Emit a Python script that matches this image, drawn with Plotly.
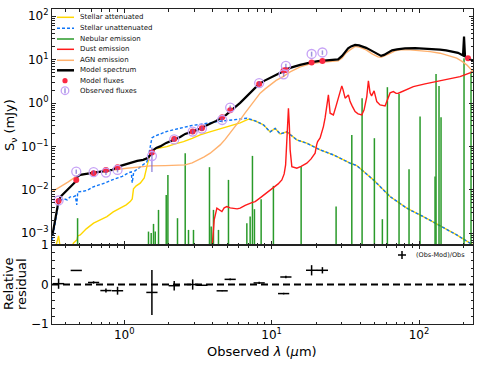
import plotly.graph_objects as go

# ---------------- data (wavelength in micron, flux in mJy) ----------------
model_lam = [0.325, 0.335, 0.346, 0.3586, 0.374, 0.398, 0.430, 0.458, 0.4727, 0.480, 0.503, 0.5526, 0.6165, 0.6877,
             0.767, 0.829, 0.8964, 0.9845, 1.098, 1.225, 1.345, 1.454, 1.501, 1.548, 1.648, 1.754, 1.927, 2.149,
             2.397, 2.592, 2.891, 3.126, 3.433, 3.830, 4.205, 4.617, 4.915, 5.232, 5.656, 6.115, 6.613, 7.149,
             7.610, 8.100, 8.895, 9.768, 10.73, 11.97, 13.35, 15.61, 17.13, 18.82, 20.67, 22.35, 24.93, 28.24,
             30.06, 31.51, 33.02, 34.59, 36.82, 39.19, 41.08, 43.73, 46.54, 49.55, 52.72, 55.26, 57.90, 61.63,
             65.60, 70.94, 80.35, 93.96, 109.8, 128.4, 138.8, 152.5, 167.3, 183.8, 198.7, 201.9, 205.1, 214.9, 232.3]
model_flux = [0.00087, 0.00164, 0.00311, 0.00558, 0.00728, 0.0090, 0.0111, 0.0145, 0.0161, 0.0199, 0.0222, 0.0234,
              0.0247, 0.0260, 0.0274, 0.0289, 0.0339, 0.0377, 0.0419, 0.0466, 0.0491, 0.0546, 0.0640, 0.0792,
              0.0929, 0.1005, 0.121, 0.142, 0.166, 0.195, 0.220, 0.241, 0.283, 0.332, 0.389, 0.468, 0.535, 0.644,
              0.796, 1.011, 1.318, 1.718, 2.125, 2.626, 3.247, 3.807, 4.465, 5.376, 6.47, 7.59, 8.22, 8.76, 9.23,
              9.53, 9.64, 10.16, 12.24, 15.13, 18.21, 20.26, 21.93, 21.36, 20.26, 18.71, 16.82, 14.73, 12.90,
              12.24, 12.90, 14.73, 16.38, 17.28, 18.21, 18.41, 18.03, 17.28, 17.00, 16.38, 15.53, 14.35, 12.56,
              34.06, 11.91, 11.00, 9.38]

agn_lam = [0.325, 0.368, 0.4173, 0.4779, 0.588, 0.6877, 0.869, 1.043, 1.284, 1.501, 1.897, 2.287, 2.592, 2.891,
           3.126, 3.487, 3.830, 4.140, 4.476, 4.838, 5.232, 5.656, 6.115, 6.613, 7.149, 7.729, 8.356, 9.036,
           9.768, 10.73, 11.97, 13.35, 15.61, 18.24, 21.32, 24.93, 28.24, 30.06, 31.99, 34.06, 36.82, 39.81,
           43.73, 48.02, 52.72, 55.26, 58.82, 63.60, 68.77, 74.34, 86.90, 101.6, 118.8, 138.8, 157.2, 180.1,
           195.6, 210.6, 232.3]
agn_flux = [0.00914, 0.01173, 0.01528, 0.02103, 0.0247, 0.0264, 0.0297, 0.0316, 0.0339, 0.0357, 0.0363, 0.0371,
            0.0377, 0.0419, 0.0473, 0.0576, 0.0701, 0.0881, 0.1089, 0.1458, 0.2025, 0.283, 0.410, 0.594, 0.831,
            1.185, 1.691, 2.125, 2.626, 3.334, 4.079, 5.235, 6.826, 8.003, 8.666, 9.042, 9.385, 11.00, 14.35,
            16.82, 20.26, 19.20, 16.82, 13.60, 11.60, 11.30, 12.24, 13.97, 15.95, 16.82, 16.82, 16.21, 15.37,
            14.12, 12.56, 10.83, 9.14, 7.59, 5.32]

dust_lam = [3.933, 3.981, 4.076, 4.252, 4.407, 4.597, 4.764, 4.969, 5.232, 5.483, 5.836, 6.115, 6.613, 7.342,
            7.729, 8.356, 9.036, 9.768, 10.28, 11.07, 11.73, 12.16, 12.44, 12.64, 12.84, 13.00, 13.18, 13.35,
            13.71, 14.82, 15.85, 17.32, 18.52, 19.72, 20.19, 20.51, 21.32, 21.89, 22.45, 23.05, 23.60, 24.27,
            24.93, 26.24, 27.37, 28.38, 29.14, 29.92, 30.53, 31.51, 33.17, 34.06, 35.14, 36.82, 38.58, 40.88,
            42.38, 44.21, 45.33, 46.54, 47.64, 49.55, 51.67, 54.40, 58.82, 61.93, 63.60, 66.96, 69.84, 72.40,
            80.35, 91.50, 109.8, 131.8, 162.3, 189.7, 233.4]
dust_flux = [0.000419, 0.000918, 0.002036, 0.003787, 0.003461, 0.003162, 0.003849, 0.004122, 0.003849, 0.003787,
             0.003651, 0.003787, 0.004394, 0.005097, 0.005374, 0.006541, 0.008087, 0.009739, 0.01094, 0.01374,
             0.01700, 0.02337, 0.0377, 0.1089, 0.4102, 0.7629, 0.3146, 0.0835, 0.0344, 0.03162, 0.03479,
             0.04123, 0.05180, 0.07008, 0.1089, 0.1297, 0.1578, 0.2025, 0.2874, 0.4560, 0.9089, 1.545, 0.5852,
             0.5347, 0.8619, 1.412, 2.014, 2.490, 2.014, 1.297, 1.545, 1.083, 0.8619, 0.6370, 0.5638, 0.5347,
             0.6972, 1.412, 3.247, 1.718, 1.465, 1.910, 1.083, 0.9089, 0.8619, 1.412, 1.718, 1.841, 1.673,
             1.691, 2.014, 2.400, 2.770, 3.129, 3.611, 4.079, 5.318]

stellar_unatt_lam = [0.325, 0.335, 0.346, 0.3586, 0.374, 0.3918, 0.4107, 0.430, 0.4510, 0.4653, 0.4764, 0.4839,
                     0.5190, 0.5612, 0.6165, 0.6877, 0.7435, 0.829, 0.8964, 0.9692, 1.0644, 1.1155, 1.1330,
                     1.160, 1.284, 1.425, 1.466, 1.501, 1.541, 1.623, 1.754, 1.948, 2.218, 2.512, 2.891, 3.275,
                     3.830, 4.476, 5.483, 6.115, 6.789, 7.376, 7.940, 8.800, 9.768, 10.56, 11.42, 12.68, 14.82,
                     17.32, 21.32, 26.24, 31.51, 34.06, 37.81, 41.92, 49.00, 63.60, 82.50, 106.9, 138.8, 180.1,
                     221.7, 232.3]
stellar_unatt_flux = [0.000705, 0.001331, 0.002655, 0.005017, 0.005885, 0.006204, 0.005885, 0.006898, 0.006898,
                      0.007272, 0.004511, 0.008994, 0.009236, 0.009739, 0.01172, 0.01304, 0.01450, 0.01700,
                      0.01890, 0.02047, 0.02464, 0.02599, 0.01450, 0.02599, 0.03388, 0.04417, 0.06404, 0.09790,
                      0.1578, 0.1754, 0.1951, 0.2228, 0.2477, 0.2755, 0.3063, 0.3230, 0.3554, 0.3828, 0.4102,
                      0.4324, 0.4488, 0.4102, 0.3747, 0.3146, 0.2170, 0.2612, 0.1951, 0.2170, 0.1419, 0.1191,
                      0.0835, 0.06404, 0.04657, 0.04123, 0.03630, 0.02640, 0.01700, 0.007009, 0.003787,
                      0.002425, 0.001481, 0.000918, 0.000591, 0.000540]

# attenuated stellar: own short-wavelength part, identical to unattenuated beyond ~8.8 micron
stellar_att_head_lam = [0.325, 0.3514, 0.3586, 0.368, 0.430, 0.4531, 0.4779, 0.4839, 0.503, 0.5526, 0.6195,
                        0.6877, 0.7633, 0.8423, 0.9395, 1.0317, 1.098, 1.133, 1.156, 1.206, 1.284, 1.367, 1.425,
                        1.466, 1.501, 1.623, 1.948, 2.218, 2.524, 2.891, 3.275, 3.711, 4.252, 4.838, 5.508,
                        6.115, 6.961, 7.729]
stellar_att_head_flux = [0.000244, 0.000705, 0.000871, 0.000461, 0.000414, 0.000601, 0.000705, 0.000871,
                         0.000918, 0.001263, 0.001709, 0.002036, 0.002425, 0.003112, 0.003787, 0.004511,
                         0.005374, 0.006204, 0.01054, 0.01237, 0.01427, 0.01890, 0.03442, 0.05760, 0.07120,
                         0.08806, 0.09947, 0.1148, 0.1297, 0.1537, 0.1850, 0.2113, 0.2413, 0.2755, 0.3146,
                         0.3498, 0.4256, 0.3889]
stellar_att_lam = stellar_att_head_lam + stellar_unatt_lam[43:]
stellar_att_flux = stellar_att_head_flux + stellar_unatt_flux[43:]

nebular_lam = [0.4825, 1.461, 1.524, 1.580, 1.623, 1.708, 1.927, 1.978, 2.298, 2.592, 2.729, 2.950, 3.787,
               3.889, 4.031, 4.358, 5.095, 6.789, 7.149, 7.410, 7.645, 8.487, 10.28, 15.85, 27.37, 34.98,
               41.08, 49.77, 56.39, 60.98, 73.16, 85.52, 101.6, 128.4, 130.4, 136.6, 141.0, 201.9, 225.2]
nebular_flux = [0.002228, 0.001094, 0.001021, 0.001647, 0.001094, 0.003461, 0.007667, 0.02216, 0.002228,
                0.07008, 0.001197, 0.001197, 0.03334, 0.001427, 0.003461, 0.001197, 0.01700, 0.001709,
                0.002425, 0.06073, 0.003592, 0.006105, 0.01237, 0.03442, 0.004122, 0.1850, 1.297, 0.1553,
                0.002113, 2.324, 1.629, 0.03000, 0.4886, 0.02025, 4.709, 2.490, 0.4733, 10.83, 5.318]
nebular_floor = 1e-4

filters_lam = [0.3586, 0.4727, 0.6195, 0.7515, 0.9007, 1.541, 2.183, 2.913, 3.364, 4.617, 5.232, 8.229,
               12.06, 12.49, 18.67, 22.10, 214.9]
mod_fluxes = [0.00558, 0.01700, 0.02426, 0.0289, 0.03334, 0.0724, 0.1497, 0.2205, 0.2641, 0.4733, 0.6863,
              2.770, 5.668, 5.821, 8.666, 9.385, 10.83]
obs_fluxes = [0.0057, 0.0264, 0.02557, 0.02505, 0.0288, 0.0603, 0.1453, 0.2205, 0.259, 0.408, 0.789, 2.885,
              4.608, 7.186, 13.54, 14.66, None]
obs_err = [0.0007, 0.003, 0.003, 0.003, 0.0035, 0.0344, 0.0174, 0.0287, 0.03, 0.05, 0.09, 0.35, 0.55, 0.85,
           1.76, 1.7, None]
resid_err = [0.13, 0.0, 0.03, 0.05, 0.1, 0.57, 0.12, 0.13, 0.01, 0.01, 0.02, 0.03, 0.02, 0.03, 0.13, 0.08, None]

y_tick_vals = [1e-3, 1e-2, 1e-1, 1, 10, 100]
y_tick_text = ["10<sup>\u22123</sup>", "10<sup>\u22122</sup>", "10<sup>\u22121</sup>",
               "10<sup>0</sup>", "10<sup>1</sup>", "10<sup>2</sup>"]
x_tick_vals = [1, 10, 100]
x_tick_text = ["10<sup>0</sup>", "10<sup>1</sup>", "10<sup>2</sup>"]

# ---------------- colours ----------------
C_GOLD = "#FFD700"
C_BLUE = "#0d75f8"
C_GREEN = "#2a9a2a"
C_RED = "#ff1a1a"
C_APRICOT = "#ffb16d"
C_STRAW = "#fb2943"
C_PPURPLE = "#c6a2f6"
C_INDIGO = "rgba(109,90,207,0.65)"

residual = [None if o is None else (o - m) / o for o, m in zip(obs_fluxes, mod_fluxes)]

neb_x, neb_y = [], []
for lam, f in zip(nebular_lam, nebular_flux):
    neb_x += [lam, lam, None]
    neb_y += [nebular_floor, f, None]

fig = go.Figure()
fig.add_trace(go.Scatter(x=stellar_att_lam, y=stellar_att_flux, mode="lines",
                         line=dict(color=C_GOLD, width=1.4), xaxis="x", yaxis="y"))
fig.add_trace(go.Scatter(x=stellar_unatt_lam, y=stellar_unatt_flux, mode="lines",
                         line=dict(color=C_BLUE, width=1.4, dash="3px,2px"), xaxis="x", yaxis="y"))
fig.add_trace(go.Scatter(x=neb_x, y=neb_y, mode="lines", connectgaps=False,
                         line=dict(color=C_GREEN, width=1.5), xaxis="x", yaxis="y"))
fig.add_trace(go.Scatter(x=dust_lam, y=dust_flux, mode="lines",
                         line=dict(color=C_RED, width=1.4), xaxis="x", yaxis="y"))
fig.add_trace(go.Scatter(x=agn_lam, y=agn_flux, mode="lines",
                         line=dict(color=C_APRICOT, width=1.4), xaxis="x", yaxis="y"))
fig.add_trace(go.Scatter(x=model_lam, y=model_flux, mode="lines",
                         line=dict(color="black", width=2.2), xaxis="x", yaxis="y"))
fig.add_trace(go.Scatter(x=filters_lam, y=mod_fluxes, mode="markers",
                         marker=dict(color=C_STRAW, size=6, line=dict(width=0)), xaxis="x", yaxis="y"))
fig.add_trace(go.Scatter(x=filters_lam, y=obs_fluxes, mode="markers",
                         marker=dict(symbol="circle-open", color=C_PPURPLE, size=9, line=dict(width=1.3)),
                         error_y=dict(type="data", array=obs_err, visible=True, color=C_INDIGO,
                                      thickness=1.5, width=0),
                         xaxis="x", yaxis="y"))
# residuals
fig.add_trace(go.Scatter(x=filters_lam, y=residual, mode="markers",
                         marker=dict(symbol="line-ew", size=8, line=dict(color="black", width=1.5)),
                         error_y=dict(type="data", array=resid_err, visible=True, color="black",
                                      thickness=1.5, width=0),
                         xaxis="x2", yaxis="y2"))

minor_log = [m * 10 ** e for e in range(-5, 4) for m in range(2, 10)]
minor_lin = [v / 10 for v in range(-10, 11, 2)]

axis_common = dict(showgrid=False, zeroline=False, showline=True, linecolor="#222", linewidth=1,
                   ticks="inside", ticklen=4, tickwidth=1, tickcolor="#222", mirror="allticks",
                   automargin=False,
                   tickfont=dict(family="DejaVu Sans", size=12, color="black"))

LOGX = [-0.490, 2.366]
SPLIT = 79 / 315

fig.update_layout(
    template="none",
    width=479, height=369,
    margin=dict(l=52, r=6, t=9, b=45, autoexpand=False),
    paper_bgcolor="white", plot_bgcolor="white",
    showlegend=False,
    font=dict(family="DejaVu Sans", color="black"),
    xaxis=dict(axis_common, type="log", range=LOGX, domain=[0, 1], anchor="y",
               showticklabels=False, tickmode="array", tickvals=x_tick_vals,
               minor=dict(ticks="inside", ticklen=2.5, tickcolor="#222", tickmode="array", tickvals=minor_log)),
    yaxis=dict(axis_common, type="log", range=[-3.27, 2.168], domain=[SPLIT, 1], anchor="x",
               tickmode="array", tickvals=y_tick_vals, ticktext=y_tick_text,
               minor=dict(ticks="inside", ticklen=2.5, tickcolor="#222", tickmode="array", tickvals=minor_log)),
    xaxis2=dict(axis_common, type="log", range=LOGX, domain=[0, 1], anchor="y2",
                tickmode="array", tickvals=x_tick_vals, ticktext=x_tick_text,
                minor=dict(ticks="inside", ticklen=2.5, tickcolor="#222", tickmode="array", tickvals=minor_log)),
    yaxis2=dict(axis_common, range=[-1, 1], domain=[0, SPLIT], anchor="x2",
                tickmode="array", tickvals=[-1, 0, 1], ticktext=["\u22121", "0", "1"],
                minor=dict(ticks="inside", ticklen=2.5, tickcolor="#222", tickmode="array", tickvals=minor_lin)),
)

shapes = [dict(type="line", xref="x2 domain", yref="y2", x0=0, x1=1, y0=0, y1=0,
               line=dict(color="black", width=2, dash="7px,4px"))]
annotations = []

PW, PH = 421.0, 315.0
def px_x(p):
    return (p - 52) / PW
def px_y(p):
    return (324 - p) / PH

# axis titles
annotations.append(dict(text="S<sub>\u03bd</sub> (mJy)", xref="paper", yref="paper", x=px_x(10), y=px_y(125),
                        textangle=-90, showarrow=False, font=dict(size=13), xanchor="center", yanchor="middle"))
annotations.append(dict(text="Relative", xref="paper", yref="paper", x=px_x(8), y=px_y(284),
                        textangle=-90, showarrow=False, font=dict(size=13), xanchor="center", yanchor="middle"))
annotations.append(dict(text="residual", xref="paper", yref="paper", x=px_x(21), y=px_y(284),
                        textangle=-90, showarrow=False, font=dict(size=13), xanchor="center", yanchor="middle"))
annotations.append(dict(text="Observed <i>\u03bb</i> (<i>\u03bc</i>m)", xref="paper", yref="paper",
                        x=px_x(262), y=px_y(351), showarrow=False, font=dict(size=13),
                        xanchor="center", yanchor="middle"))

# manual legend (main panel)
legend_labels = ["Stellar attenuated", "Stellar unattenuated", "Nebular emission", "Dust emission",
                 "AGN emission", "Model spectrum", "Model fluxes", "Observed fluxes"]
legend_rows = [17.3, 28.3, 39.0, 49.3, 60.3, 70.3, 80.7, 90.7]
line_styles = [(C_GOLD, 1.5, "solid"), (C_BLUE, 1.5, "3px,2px"), (C_GREEN, 1.5, "solid"),
               (C_RED, 1.5, "solid"), (C_APRICOT, 1.5, "solid"), ("black", 2.5, "solid")]
for i, lab in enumerate(legend_labels):
    yy = px_y(legend_rows[i])
    annotations.append(dict(text=lab, xref="paper", yref="paper", x=px_x(78), y=yy, showarrow=False,
                            font=dict(size=7, color="#111"), xanchor="left", yanchor="middle"))
    if i < 6:
        col, w, d = line_styles[i]
        shapes.append(dict(type="line", xref="paper", yref="paper", x0=px_x(57), x1=px_x(74), y0=yy, y1=yy,
                           line=dict(color=col, width=w, dash=d)))
    elif i == 6:
        r = 2.6
        shapes.append(dict(type="circle", xref="paper", yref="paper", x0=px_x(65 - r), x1=px_x(65 + r),
                           y0=px_y(legend_rows[i] + r), y1=px_y(legend_rows[i] - r),
                           fillcolor=C_STRAW, line=dict(width=0)))
    else:
        r = 3.8
        shapes.append(dict(type="circle", xref="paper", yref="paper", x0=px_x(65 - r), x1=px_x(65 + r),
                           y0=px_y(legend_rows[i] + r), y1=px_y(legend_rows[i] - r),
                           line=dict(color=C_PPURPLE, width=1.3)))
        shapes.append(dict(type="line", xref="paper", yref="paper", x0=px_x(65), x1=px_x(65),
                           y0=px_y(legend_rows[i] + 2.5), y1=px_y(legend_rows[i] - 2.5),
                           line=dict(color=C_INDIGO, width=1.5)))

# residual legend
shapes.append(dict(type="line", xref="paper", yref="paper", x0=px_x(398), x1=px_x(406),
                   y0=px_y(255), y1=px_y(255), line=dict(color="black", width=1.5)))
shapes.append(dict(type="line", xref="paper", yref="paper", x0=px_x(402), x1=px_x(402),
                   y0=px_y(251), y1=px_y(259), line=dict(color="black", width=1.5)))
annotations.append(dict(text="(Obs-Mod)/Obs", xref="paper", yref="paper", x=px_x(414), y=px_y(255),
                        showarrow=False, font=dict(size=6.5, color="#111"), xanchor="left", yanchor="middle"))

fig.update_layout(shapes=shapes, annotations=annotations)
fig.write_html("out.html", config={"displayModeBar": False},
               post_script="document.body.style.margin='0px';")
